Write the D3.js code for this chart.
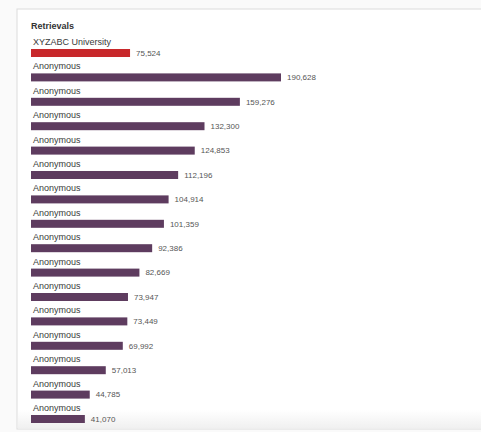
<!DOCTYPE html>
<html>
<head>
<meta charset="utf-8">
<script src="https://cdnjs.cloudflare.com/ajax/libs/d3/7.8.5/d3.min.js"></script>
<style>
  html, body { margin: 0; padding: 0; background: #fff; }
  svg { display: block; font-family: "Liberation Sans", Arial, sans-serif; }
</style>
</head>
<body>
<svg id="chart" width="481" height="432"></svg>
<script>
// institutions, in the order shown
const names = ["XYZABC University", "Anonymous", "Anonymous", "Anonymous", "Anonymous",
  "Anonymous", "Anonymous", "Anonymous", "Anonymous", "Anonymous", "Anonymous",
  "Anonymous", "Anonymous", "Anonymous", "Anonymous", "Anonymous"];
// retrieval counts
const retrievals = [75524, 190628, 159276, 132300, 124853, 112196, 104914, 101359,
  92386, 82669, 73947, 73449, 69992, 57013, 44785, 41070];
const highlighted = [true, false, false, false, false, false, false, false,
  false, false, false, false, false, false, false, false];

const svg = d3.select("#chart");
const fmt = d3.format(",");

// panel
const defs = svg.append("defs");
const grad = defs.append("linearGradient").attr("id", "fade")
  .attr("x1", 0).attr("y1", 0).attr("x2", 0).attr("y2", 1);
grad.append("stop").attr("offset", 0).attr("stop-color", "#fff");
grad.append("stop").attr("offset", 1).attr("stop-color", "#f0f0f0");
svg.append("rect").attr("x", 0).attr("y", 0).attr("width", 481).attr("height", 432)
  .attr("fill", "#fafafa");
svg.append("rect").attr("x", 17).attr("y", 9).attr("width", 470).attr("height", 420)
  .attr("fill", "#fff").attr("stroke", "#dcdcdc");
svg.append("rect").attr("x", 18).attr("y", 410).attr("width", 463).attr("height", 18)
  .attr("fill", "url(#fade)");

const left = 31;
const x = d3.scaleLinear()
  .domain([0, d3.max(retrievals)])
  .range([0, 250]);
const y = d3.scaleBand()
  .domain(d3.range(names.length))
  .range([41, 41 + 24.4 * names.length]);

svg.append("text")
  .attr("x", left).attr("y", 29)
  .attr("font-size", 9).attr("font-weight", "bold").attr("fill", "#333")
  .text("Retrievals");

const rows = svg.selectAll("g.row").data(names).enter()
  .append("g").attr("class", "row")
  .attr("transform", function(d, i) { return "translate(" + left + "," + y(i) + ")"; });

rows.append("text")
  .attr("x", 2).attr("y", 4)
  .attr("font-size", 9).attr("fill", "#3a3a3a")
  .text(function(d) { return d; });

rows.append("rect")
  .attr("x", 0).attr("y", 8)
  .attr("height", 8)
  .attr("width", function(d, i) { return x(retrievals[i]); })
  .attr("fill", function(d, i) { return highlighted[i] ? "#c8282b" : "#5e3c5f"; });

rows.append("text")
  .attr("x", function(d, i) { return x(retrievals[i]) + 6; })
  .attr("y", 14.8)
  .attr("font-size", 8).attr("fill", "#555")
  .text(function(d, i) { return fmt(retrievals[i]); });
</script>
</body>
</html>
